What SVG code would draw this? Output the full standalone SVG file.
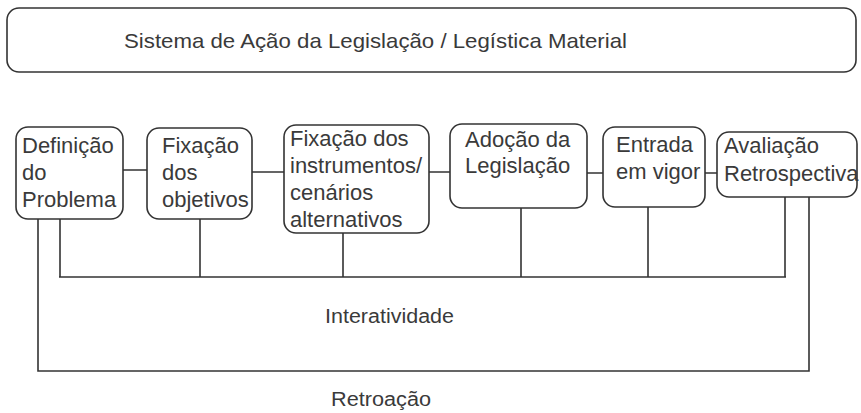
<svg xmlns="http://www.w3.org/2000/svg" width="861" height="413" viewBox="0 0 861 413">
<style>
.box{fill:#fff;stroke:#333;stroke-width:1.6}
.t{font-family:"Liberation Sans",Arial,sans-serif;font-size:22px;fill:#3a3a3a}
.s{font-family:"Liberation Sans",Arial,sans-serif;font-size:21px;fill:#3a3a3a}
.c{fill:none;stroke:#333;stroke-width:1.6}
</style>
<rect width="861" height="413" fill="#fff"/>
<g id="connectors">
<path class="c" d="M123 170H147M252 172H284M429 172H450M587 173H603M705 173H717"/>
<path class="c" d="M60 219V277M200 219V277M343 233V277M521 208V277M648 207V277M785 197V277M59 277H786"/>
<path class="c" d="M38 219V371H809V197"/>
</g>
<g id="header">
<rect class="box" x="7" y="8" width="849" height="64" rx="12"/>
<text class="s" x="124" y="48" textLength="503" lengthAdjust="spacingAndGlyphs">Sistema de Ação da Legislação / Legística Material</text>
</g>
<g id="n1">
<rect class="box" x="16" y="127" width="107" height="92" rx="12"/>
<text class="t" x="22" y="153">Definição</text>
<text class="t" x="22" y="180">do</text>
<text class="t" x="22" y="207">Problema</text>
</g>
<g id="n2">
<rect class="box" x="147" y="128" width="105" height="91" rx="12"/>
<text class="t" x="162" y="153">Fixação</text>
<text class="t" x="162" y="180">dos</text>
<text class="t" x="162" y="207">objetivos</text>
</g>
<g id="n3">
<rect class="box" x="284" y="125" width="145" height="108" rx="12"/>
<text class="t" x="290" y="146">Fixação dos</text>
<text class="t" x="290" y="173">instrumentos/</text>
<text class="t" x="290" y="200">cenários</text>
<text class="t" x="290" y="227">alternativos</text>
</g>
<g id="n4">
<rect class="box" x="450" y="124" width="137" height="84" rx="12"/>
<text class="t" x="465" y="147">Adoção da</text>
<text class="t" x="465" y="173">Legislação</text>
</g>
<g id="n5">
<rect class="box" x="603" y="127" width="102" height="80" rx="12"/>
<text class="t" x="616" y="152">Entrada</text>
<text class="t" x="616" y="179">em vigor</text>
</g>
<g id="n6">
<rect class="box" x="717" y="132" width="140" height="65" rx="12"/>
<text class="t" x="724" y="153">Avaliação</text>
<text class="t" x="724" y="181">Retrospectiva</text>
</g>
<text class="s" x="325" y="323" textLength="129" lengthAdjust="spacingAndGlyphs" style="font-size:20px">Interatividade</text>
<text class="s" x="331" y="406" textLength="100" lengthAdjust="spacingAndGlyphs" style="font-size:20px">Retroação</text>
</svg>
